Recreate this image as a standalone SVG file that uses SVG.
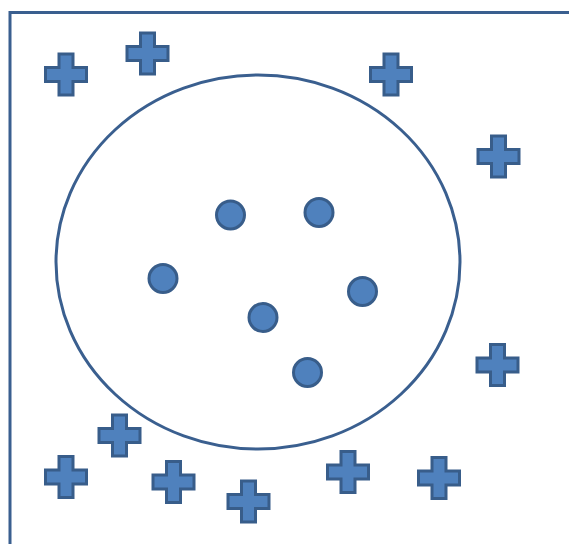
<svg xmlns="http://www.w3.org/2000/svg" width="569" height="544" viewBox="0 0 569 544">
<style>
.ax{fill:none;stroke:#3a5f8f;stroke-width:3}
.ring{fill:none;stroke:#3a5f8f;stroke-width:3}
.mk{fill:#4f81bd;stroke:#385d8a;stroke-width:3}
</style>
<defs>
<path id="plus" d="M-7,-20.5H7V-7H20.5V7H7V20.5H-7V7H-20.5V-7H-7Z"/>
</defs>
<rect width="569" height="544" fill="#fff"/>
<g id="axes">
<path class="ax" d="M10,544V12.5H569"/>
</g>
<g id="boundary">
<ellipse class="ring" cx="258" cy="262" rx="202" ry="187"/>
</g>
<g id="crosses">
<use href="#plus" class="mk" x="66" y="74.5"/>
<use href="#plus" class="mk" x="147.5" y="53.5"/>
<use href="#plus" class="mk" x="391" y="74.5"/>
<use href="#plus" class="mk" x="498.5" y="156.5"/>
<use href="#plus" class="mk" x="497.5" y="365"/>
<use href="#plus" class="mk" x="66" y="477"/>
<use href="#plus" class="mk" x="119.5" y="435.5"/>
<use href="#plus" class="mk" x="173.5" y="482"/>
<use href="#plus" class="mk" x="248.5" y="501.5"/>
<use href="#plus" class="mk" x="348" y="472"/>
<use href="#plus" class="mk" x="439" y="478"/>
</g>
<g id="dots">
<circle class="mk" cx="230.5" cy="215" r="14"/>
<circle class="mk" cx="319" cy="212.5" r="14"/>
<circle class="mk" cx="163" cy="278.5" r="14"/>
<circle class="mk" cx="362.5" cy="291.5" r="14"/>
<circle class="mk" cx="263" cy="317.5" r="14"/>
<circle class="mk" cx="307.5" cy="372.5" r="14"/>
</g>
</svg>
